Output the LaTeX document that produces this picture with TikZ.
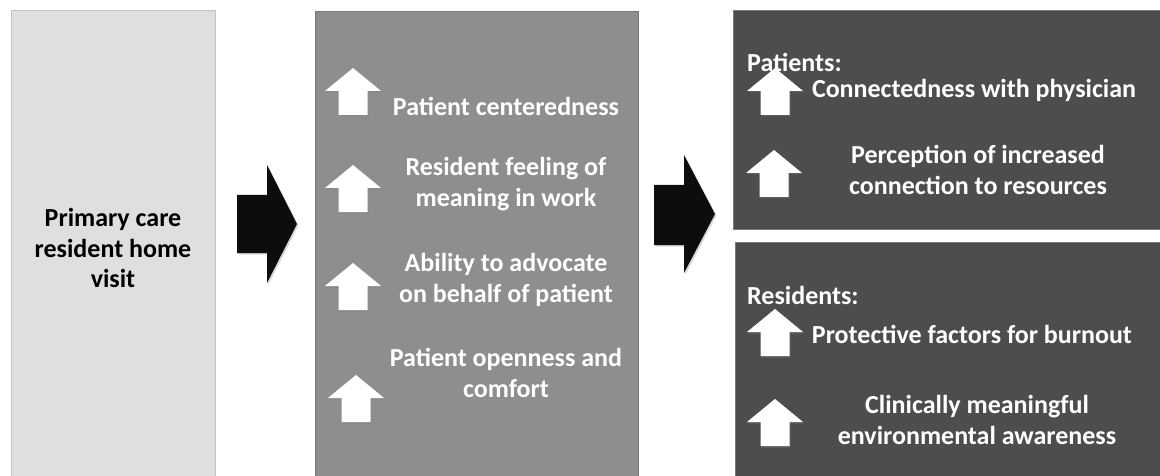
\documentclass[tikz,border=0pt]{standalone}
\usepackage{fontspec}
\setmainfont{Carlito}
\usetikzlibrary{shadows}

\definecolor{visitfill}{HTML}{DFDFDF}
\definecolor{visitedge}{HTML}{C4C4C4}
\definecolor{midfill}{HTML}{8E8E8E}
\definecolor{outfill}{HTML}{4D4D4D}
\definecolor{outedge}{HTML}{7A7A7A}

\tikzset{
  lbl/.style={font=\bfseries\fontsize{26}{30.5}\selectfont, align=center, inner sep=0pt},
  wlbl/.style={lbl, text=white},
  bigarrow/.style={fill=black!95, drop shadow={shadow xshift=1.5pt, shadow yshift=-1.5pt, opacity=0.3}},
  % small white "increase" arrow, tip at the origin
  pics/uparr/.style={code={
    \fill[white, drop shadow={shadow xshift=1pt, shadow yshift=-1.5pt, opacity=0.35}]
      (0,0) -- (28,23) -- (14.5,23) -- (14.5,47) -- (-14.5,47) -- (-14.5,23) -- (-28,23) -- cycle;
  }}
}

\begin{document}
\begin{tikzpicture}[x=1pt, y=-1pt]
\useasboundingbox[fill=white] (0,0) rectangle (1160,476);
\clip (0,0) rectangle (1160,476);

% columns
\draw[fill=visitfill, draw=visitedge, thin] (11,10) rectangle (215,490);
\draw[fill=midfill, draw=midfill!85!black, thin] (315,11) rectangle (638,490);
\draw[fill=outfill, draw=outedge, thin] (733,10) rectangle (1175,229);
\draw[fill=outfill, draw=outedge, thin] (735,242) rectangle (1175,490);

% flow arrows
\fill[bigarrow] (237,195) -- (267,195) -- (267,165) -- (297,224) -- (267,283) -- (267,253) -- (237,253) -- cycle;
\fill[bigarrow] (654,185) -- (684,185) -- (684,155) -- (715,214) -- (684,273) -- (684,245) -- (654,245) -- cycle;

% first column
\node[lbl] (visit) at (113,248) {Primary care\\resident home\\visit};

% second column
\pic at (353,68) {uparr};
\pic at (353,165) {uparr};
\pic at (353,263) {uparr};
\pic at (356,375) {uparr};
\node[wlbl] (center) at (506,106) {Patient centeredness};
\node[wlbl] (meaning) at (506,184) {Resident feeling of\\meaning in work};
\node[wlbl] (advocate) at (506,280) {Ability to advocate\\on behalf of patient};
\node[wlbl] (openness) at (506,373) {Patient openness and\\comfort};

% patients
\node[wlbl, anchor=west] (patients) at (747,62) {Patients:};
\pic at (775,68) {uparr};
\pic at (774,150) {uparr};
\node[wlbl] (connect) at (974,90) {Connectedness with physician};
\node[wlbl] (resources) at (978,170) {Perception of increased\\connection to resources};

% residents
\node[wlbl, anchor=west] (residents) at (747,295) {Residents:};
\pic at (775,309) {uparr};
\pic at (775,399) {uparr};
\node[wlbl] (burnout) at (972,334) {Protective factors for burnout};
\node[wlbl] (aware) at (977,420) {Clinically meaningful\\environmental awareness};
\end{tikzpicture}
\end{document}
